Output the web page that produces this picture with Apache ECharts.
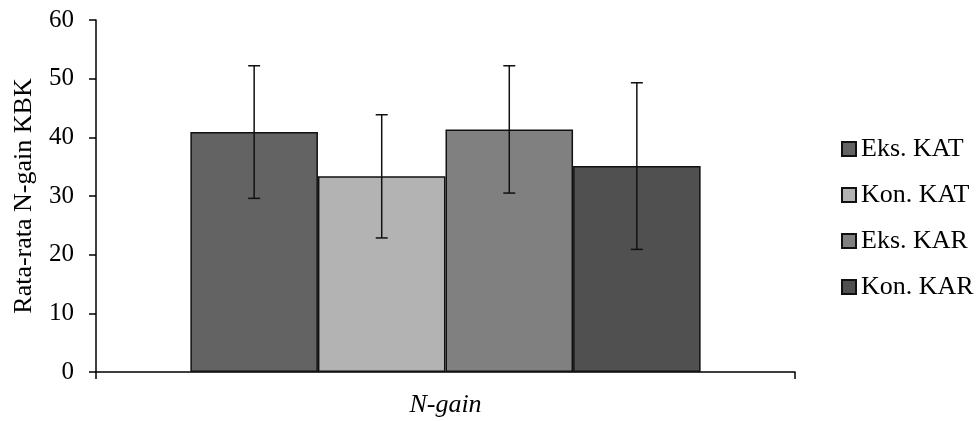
<!DOCTYPE html>
<html>
<head>
<meta charset="utf-8">
<script src="https://cdn.jsdelivr.net/npm/echarts@6/dist/echarts.min.js"></script>
<style>html,body{margin:0;padding:0;background:#fff}#c{width:980px;height:421px}</style>
</head>
<body>
<div id="c"></div>
<script>
var categories = ['N-gain'];
var seriesNames = ['Eks. KAT', 'Kon. KAT', 'Eks. KAR', 'Kon. KAR'];
var means = [40.9, 33.35, 41.35, 35.1];
var errors = [11.3, 10.5, 10.85, 14.2];
var colors = ['#636363', '#b3b3b3', '#808080', '#505050'];
var yTicks = [0, 10, 20, 30, 40, 50, 60];

var FONT = 'Liberation Serif';
var catGap = 0.27;
var chart = echarts.init(document.getElementById('c'));

var series = seriesNames.map(function (n, i) {
  return {
    name: n, type: 'bar', data: [means[i]],
    barGap: '0%', barCategoryGap: (catGap * 100) + '%',
    itemStyle: { color: colors[i], borderColor: '#111', borderWidth: 1.5 },
    emphasis: { disabled: true }, z: 2
  };
});

var errData = means.map(function (m, i) { return [0, m - errors[i], m + errors[i], i]; });
series.push({
  type: 'custom', name: 'err', z: 5, silent: true,
  data: errData,
  encode: { x: 0, y: [1, 2] },
  renderItem: function (params, api) {
    var idx = api.value(3);
    var lo = api.coord([api.value(0), api.value(1)]);
    var hi = api.coord([api.value(0), api.value(2)]);
    var catW = api.size([1, 0])[0];
    var bw = catW * (1 - catGap) / 4;
    var x = lo[0] + (idx - 1.5) * bw;
    var cap = 6;
    var st = { stroke: '#111', lineWidth: 1.5 };
    return { type: 'group', children: [
      { type: 'line', shape: { x1: x, y1: hi[1], x2: x, y2: lo[1] }, style: st },
      { type: 'line', shape: { x1: x - cap, y1: hi[1], x2: x + cap, y2: hi[1] }, style: st },
      { type: 'line', shape: { x1: x - cap, y1: lo[1], x2: x + cap, y2: lo[1] }, style: st }
    ]};
  }
});

chart.setOption({
  animation: false,
  textStyle: { fontFamily: FONT },
  grid: { left: 96, right: 185, top: 20, bottom: 49, containLabel: false },
  legend: {
    orient: 'vertical', left: 836, top: 131,
    data: seriesNames, icon: 'rect', itemWidth: 14, itemHeight: 14, itemGap: 20,
    textStyle: { fontFamily: FONT, fontSize: 26, color: '#000', padding: [0, 0, 0, 0] },
    selectedMode: false
  },
  xAxis: {
    type: 'category', data: categories,
    axisLine: { lineStyle: { color: '#000', width: 1.5 } },
    axisTick: { show: true, length: 7, lineStyle: { color: '#000', width: 1.5 } },
    axisLabel: { fontFamily: FONT, fontSize: 26, fontStyle: 'italic', color: '#000', margin: 20 }
  },
  yAxis: {
    type: 'value', min: yTicks[0], max: yTicks[yTicks.length - 1], interval: 10,
    name: 'Rata-rata N-gain KBK', nameLocation: 'middle', nameGap: 59,
    nameTextStyle: { fontFamily: FONT, fontSize: 26, color: '#000' },
    axisLine: { show: true, lineStyle: { color: '#000', width: 1.5 } },
    axisTick: { show: true, length: 7, lineStyle: { color: '#000', width: 1.5 } },
    axisLabel: { fontFamily: FONT, fontSize: 25, color: '#000', margin: 22 },
    splitLine: { show: false }
  },
  series: series
});
</script>
</body>
</html>
